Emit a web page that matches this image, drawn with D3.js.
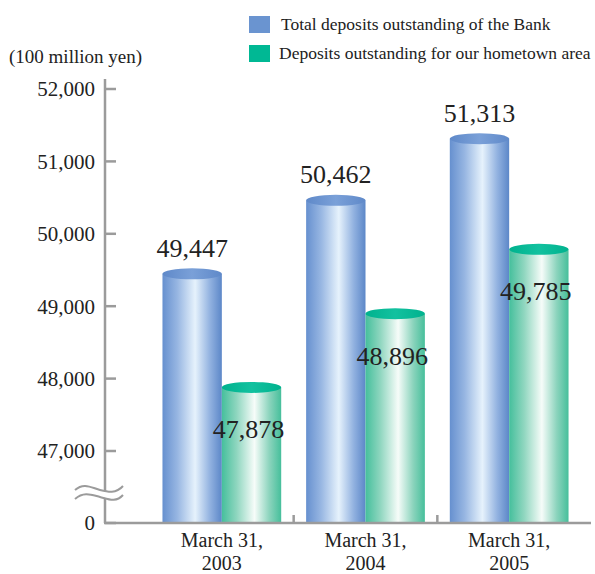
<!DOCTYPE html>
<html>
<head>
<meta charset="utf-8">
<script src="https://cdn.jsdelivr.net/npm/d3@7"></script>
<style>
  html, body { margin: 0; padding: 0; background: #fff; }
  svg { display: block; font-family: "Liberation Serif", "DejaVu Serif", serif; }
</style>
</head>
<body>
<svg id="chart" width="595" height="574"></svg>
<script>
// ── data ──
const years = ['2003', '2004', '2005'];
const seriesNames = ['Total deposits outstanding of the Bank', 'Deposits outstanding for our hometown area'];
const totalDeposits = [49447, 50462, 51313];
const hometownDeposits = [47878, 48896, 49785];
const yTicks = [0, 47000, 48000, 49000, 50000, 51000, 52000];

const W = 595, H = 574;
const svg = d3.select('#chart');
const axisCol = '#9b9b9b';

// 軸の中断（0 と 47,000 の間）は多区間スケールで表現
const y = d3.scaleLinear().domain([0, 47000, 52000]).range([523, 451, 89]);
const x0 = d3.scaleBand().domain(years).range([150, 581]);
const x1 = d3.scaleBand().domain([0, 1]).range([0, x0.bandwidth()]).paddingOuter(0.21);

const defs = svg.append('defs');
function cylGrad(id, stops) {
  const g = defs.append('linearGradient').attr('id', id).attr('x1', 0).attr('x2', 1).attr('y1', 0).attr('y2', 0);
  stops.forEach(s => g.append('stop').attr('offset', s[0]).attr('stop-color', s[1]));
}
cylGrad('gBlue', [[0, '#6690cf'], [0.25, '#97b6e2'], [0.55, '#e6f2fc'], [0.8, '#92b2e0'], [1, '#5c87c8']]);
cylGrad('gGreen', [[0, '#45bf9c'], [0.25, '#8fd6bf'], [0.55, '#f6fcf9'], [0.8, '#8cd4bd'], [1, '#46bf9b']]);
cylGrad('gBlueTop', [[0, '#5f89c9'], [0.5, '#7aa0d8'], [1, '#5f89c9']]);
cylGrad('gGreenTop', [[0, '#00b28e'], [0.5, '#12c19f'], [1, '#00b28e']]);

const series = [
  { vals: totalDeposits, body: 'url(#gBlue)', top: 'url(#gBlueTop)' },
  { vals: hometownDeposits, body: 'url(#gGreen)', top: 'url(#gGreenTop)' }
];
const ry = 5.5;

// ── bars (cylinders) ──
series.forEach((s, si) => {
  const g = svg.append('g');
  years.forEach((yr, i) => {
    const bx = x0(yr) + x1(si), bw = x1.bandwidth();
    const ty = y(s.vals[i]);
    g.append('rect').attr('x', bx).attr('y', ty).attr('width', bw).attr('height', y(0) - ty).attr('fill', s.body);
    g.append('ellipse').attr('cx', bx + bw / 2).attr('cy', ty).attr('rx', bw / 2).attr('ry', ry).attr('fill', s.top);
  });
});

// ── axes ──
const yAxis = svg.append('g').attr('transform', 'translate(105,0)');
yAxis.append('line').attr('x1', 0).attr('x2', 0).attr('y1', 79).attr('y2', y(0)).attr('stroke', axisCol).attr('stroke-width', 2.5);
yTicks.forEach(t => {
  yAxis.append('line').attr('x1', 0).attr('x2', 11).attr('y1', y(t)).attr('y2', y(t)).attr('stroke', axisCol).attr('stroke-width', 2.5);
  yAxis.append('text').attr('x', -10).attr('y', y(t)).attr('dy', '0.35em').attr('text-anchor', 'end')
    .attr('font-size', 21).attr('fill', '#222').text(d3.format(',')(t));
});
svg.append('line').attr('x1', 104).attr('x2', 591).attr('y1', y(0)).attr('y2', y(0)).attr('stroke', axisCol).attr('stroke-width', 2.5);
years.slice(1).forEach(yr => {
  svg.append('line').attr('x1', x0(yr)).attr('x2', x0(yr)).attr('y1', y(0)).attr('y2', y(0) - 8).attr('stroke', axisCol).attr('stroke-width', 2.5);
});

// 波線（軸の省略記号）
const br = svg.append('g');
br.append('path').attr('d', 'M75,490 C84,482 92,488 100,490 S116,494 123,486 L123,495 C116,503 108,498 100,497 S84,492 75,499 Z').attr('fill', '#fff');
['M75,490 C84,482 92,488 100,490 S116,494 123,486', 'M75,499 C84,491 92,495 100,497 S116,503 123,495'].forEach(d => {
  br.append('path').attr('d', d).attr('fill', 'none').attr('stroke', axisCol).attr('stroke-width', 2);
});

// ── x labels ──
years.forEach(yr => {
  const cx = x0(yr) + x0.bandwidth() / 2;
  const t = svg.append('text').attr('text-anchor', 'middle').attr('font-size', 20).attr('fill', '#222');
  t.append('tspan').attr('x', cx).attr('y', 547).text('March 31,');
  t.append('tspan').attr('x', cx).attr('y', 570).text(yr);
});

// ── value labels ──
years.forEach((yr, i) => {
  const bw = x1.bandwidth();
  svg.append('text').attr('x', x0(yr) + x1(0) + bw / 2).attr('y', y(totalDeposits[i]) - 17)
    .attr('text-anchor', 'middle').attr('font-size', 26).attr('fill', '#222').text(d3.format(',')(totalDeposits[i]));
  svg.append('text').attr('x', x0(yr) + x1(1) + bw / 2 - 3).attr('y', y(hometownDeposits[i]) + 51)
    .attr('text-anchor', 'middle').attr('font-size', 26).attr('fill', '#222').text(d3.format(',')(hometownDeposits[i]));
});

// ── unit label & legend ──
svg.append('text').attr('x', 9).attr('y', 63).attr('font-size', 19).attr('fill', '#222').text('(100 million yen)');
const legCols = ['#6a94d0', '#00b894'];
seriesNames.forEach((n, i) => {
  svg.append('rect').attr('x', 249).attr('y', 16 + i * 29).attr('width', 21).attr('height', 17).attr('fill', legCols[i]);
  svg.append('text').attr('x', i === 0 ? 281 : 279).attr('y', 30 + i * 29).attr('font-size', 17.5).attr('fill', '#222').text(n);
});
</script>
</body>
</html>
